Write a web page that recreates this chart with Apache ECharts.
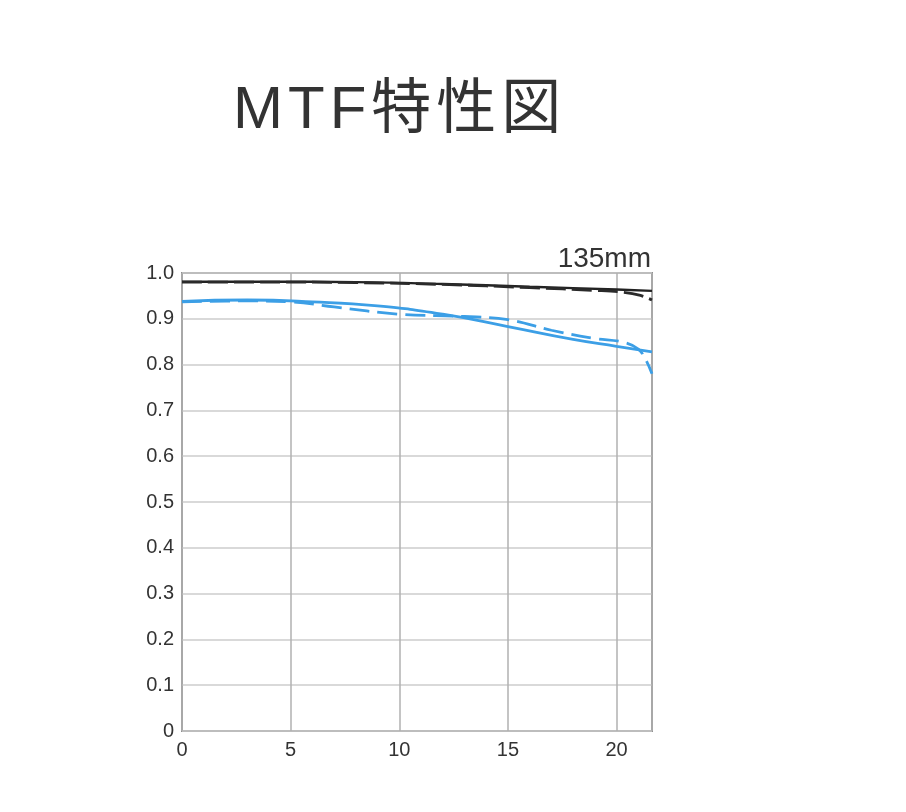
<!DOCTYPE html>
<html>
<head>
<meta charset="utf-8">
<script src="https://cdn.jsdelivr.net/npm/echarts@6/dist/echarts.min.js"></script>
<style>html,body{margin:0;padding:0;background:#fff;}#c{width:906px;height:812px;}</style>
</head>
<body>
<div id="c"></div>
<script>
var titleText = 'MTF特性図';
var focalLabel = '135mm';
var xTicks = [0, 5, 10, 15, 20];
var yTickLabels = ['0', '0.1', '0.2', '0.3', '0.4', '0.5', '0.6', '0.7', '0.8', '0.9', '1.0'];

var blackSolidX = [0, 4, 8, 12, 16, 20, 21.63];
var blackSolidY = [0.981, 0.981, 0.980, 0.976, 0.970, 0.964, 0.961];

var blackDashX = [0, 4, 8, 12, 16, 19, 20.3, 21.1, 21.63];
var blackDashY = [0.980, 0.980, 0.979, 0.975, 0.968, 0.962, 0.958, 0.951, 0.941];

var blueSolidX = [0, 3, 6, 9, 12, 15, 18, 20, 21.63];
var blueSolidY = [0.938, 0.941, 0.937, 0.928, 0.910, 0.883, 0.855, 0.840, 0.828];

var blueDashX = [0, 3, 5, 7, 10, 13, 15, 17, 19, 20.3, 21.0, 21.35, 21.63];
var blueDashY = [0.937, 0.939, 0.937, 0.926, 0.910, 0.905, 0.898, 0.875, 0.857, 0.849, 0.834, 0.810, 0.780];

function pairs(xs, ys) { return xs.map(function (x, i) { return [x, ys[i]]; }); }

var titleRich = titleText.split('').map(function (ch) { return '{c|' + ch + '}'; }).join('');

var chart = echarts.init(document.getElementById('c'));
var axisFont = "'Liberation Sans', Arial, sans-serif";
chart.setOption({
  backgroundColor: '#ffffff',
  animation: false,
  title: [{
    text: titleRich,
    left: 228, top: 76,
    textStyle: {
      fontFamily: "'Liberation Sans', 'Noto Sans CJK JP', sans-serif", fontSize: 60, fontWeight: 'normal', color: '#333333',
      rich: { c: { fontFamily: "'Liberation Sans', 'Noto Sans CJK JP', sans-serif", fontSize: 60, color: '#333333', padding: [0, 5, 0, 0] } }
    }
  }, {
    text: focalLabel,
    right: 250, top: 240,
    textStyle: { fontFamily: "'Liberation Sans', Arial, sans-serif", fontSize: 28, fontWeight: 'normal', color: '#333333' }
  }],
  grid: {
    left: 182, right: 254, top: 273, bottom: 81,
    show: true, borderColor: '#8f8f8f', borderWidth: 2, backgroundColor: 'transparent'
  },
  xAxis: {
    type: 'value', min: 0, max: 21.63, interval: 5,
    axisLine: { show: false }, axisTick: { show: false },
    splitLine: { show: true, lineStyle: { color: '#b0b0b0', width: 1.5 } },
    axisLabel: {
      showMaxLabel: false, margin: 9, color: '#333333', fontSize: 20, fontFamily: axisFont,
      formatter: function (v) { return xTicks.indexOf(v) >= 0 ? String(v) : ''; }
    }
  },
  yAxis: {
    type: 'value', min: 0, max: 1, interval: 0.1,
    axisLine: { show: false }, axisTick: { show: false },
    splitLine: { show: true, lineStyle: { color: '#cccccc', width: 1.5 } },
    axisLabel: {
      margin: 8, color: '#333333', fontSize: 20, fontFamily: axisFont,
      formatter: function (v) { return yTickLabels[Math.round(v * 10)]; }
    }
  },
  series: [
    { type: 'line', data: pairs(blueSolidX, blueSolidY), smooth: 0.5, symbol: 'none',
      lineStyle: { color: '#3c9fe6', width: 2.8 } },
    { type: 'line', data: pairs(blueDashX, blueDashY), smooth: 0.4, symbol: 'none',
      lineStyle: { color: '#3c9fe6', width: 2.8, type: [20, 8] } },
    { type: 'line', data: pairs(blackSolidX, blackSolidY), smooth: 0.5, symbol: 'none',
      lineStyle: { color: '#222222', width: 2.4 } },
    { type: 'line', data: pairs(blackDashX, blackDashY), smooth: 0.4, symbol: 'none',
      lineStyle: { color: '#2a2a2a', width: 2.8, type: [20, 6] } }
  ]
});
</script>
</body>
</html>
